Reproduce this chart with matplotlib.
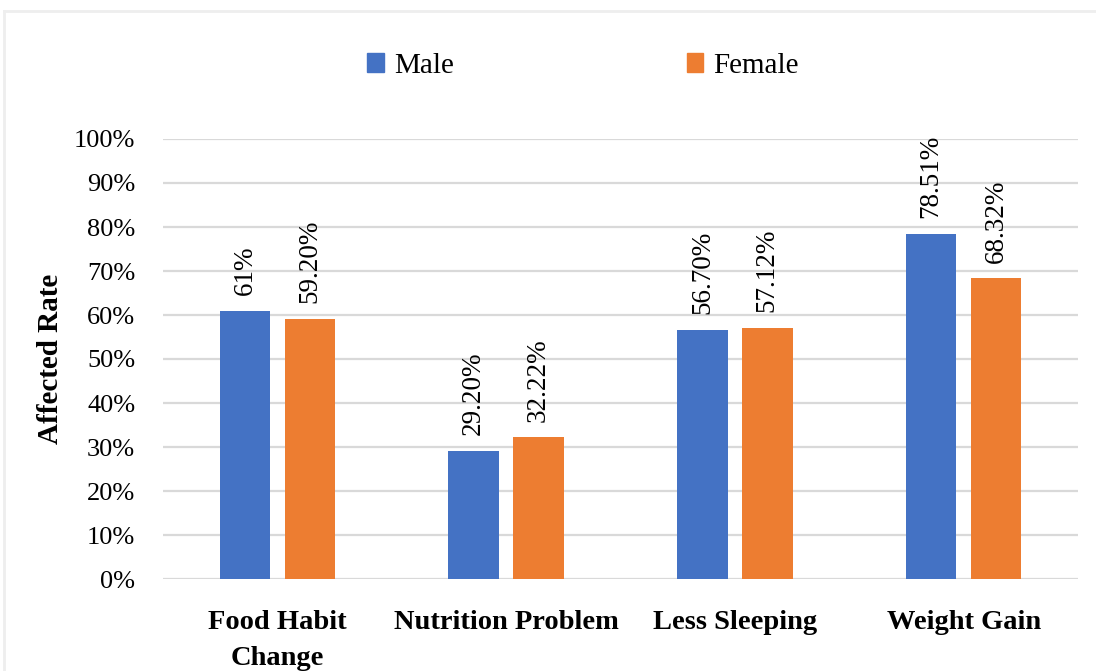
import numpy as np
import matplotlib
matplotlib.use("Agg")
import matplotlib.pyplot as plt
from matplotlib.patches import Patch
from matplotlib.lines import Line2D

categories = ["Food Habit\nChange", "Nutrition Problem", "Less Sleeping", "Weight Gain"]
male = [61.0, 29.20, 56.70, 78.51]
female = [59.20, 32.22, 57.12, 68.32]
male_labels = ["61%", "29.20%", "56.70%", "78.51%"]
female_labels = ["59.20%", "32.22%", "57.12%", "68.32%"]
yticks = [0, 10, 20, 30, 40, 50, 60, 70, 80, 90, 100]

blue = "#4472C4"
orange = "#ED7D31"
grid = "#D9D9D9"

plt.rcParams["font.family"] = ["Liberation Serif", "DejaVu Serif"]
plt.rcParams["font.size"] = 19

fig = plt.figure(figsize=(10.96, 6.71), dpi=100)
ax = fig.add_axes([163 / 1096, 1 - 579 / 671, (1078 - 163) / 1096, (579 - 139) / 671])

x = np.arange(len(categories))
w = 0.22
off = 0.142
bm = ax.bar(x - off, male, w, color=blue, zorder=3)
bf = ax.bar(x + off, female, w, color=orange, zorder=3)

for bars, labels in ((bm, male_labels), (bf, female_labels)):
    for b, lab in zip(bars, labels):
        ax.annotate(lab, (b.get_x() + b.get_width() / 2, b.get_height()),
                    xytext=(0, 11), textcoords="offset points",
                    rotation=90, ha="center", va="bottom", fontsize=19.5)

ax.set_xlim(-0.5, 3.5)
ax.set_ylim(0, 100)
ax.set_yticks(yticks)
ax.set_yticklabels([f"{t}%" for t in yticks])
ax.set_xticks(x)
ax.set_xticklabels(categories, fontweight="bold", linespacing=1.6, fontsize=20.5)
ax.tick_params(axis="both", length=0)
ax.tick_params(axis="y", pad=20)
ax.tick_params(axis="x", pad=22)
ax.yaxis.grid(True, color=grid, linewidth=1.6, zorder=0)
for s in ax.spines.values():
    s.set_visible(False)
ax.set_ylabel("Affected Rate", fontweight="bold", fontsize=21, labelpad=7)

handles = [Patch(color=blue), Patch(color=orange)]
fig.legend(handles, ["Male", "Female"], loc="center", bbox_to_anchor=(0.532, 0.902),
           ncol=2, frameon=False, handlelength=0.55, handleheight=0.65,
           handletextpad=0.35, columnspacing=8.0, fontsize=21)

# light frame around the chart area
fig.add_artist(Line2D([4 / 1096, 1], [1 - 11 / 671, 1 - 11 / 671], color="#EEEEEE", lw=2))
fig.add_artist(Line2D([4 / 1096, 4 / 1096], [0, 1 - 11 / 671], color="#EEEEEE", lw=2))

fig.savefig("out.png", dpi=100)
